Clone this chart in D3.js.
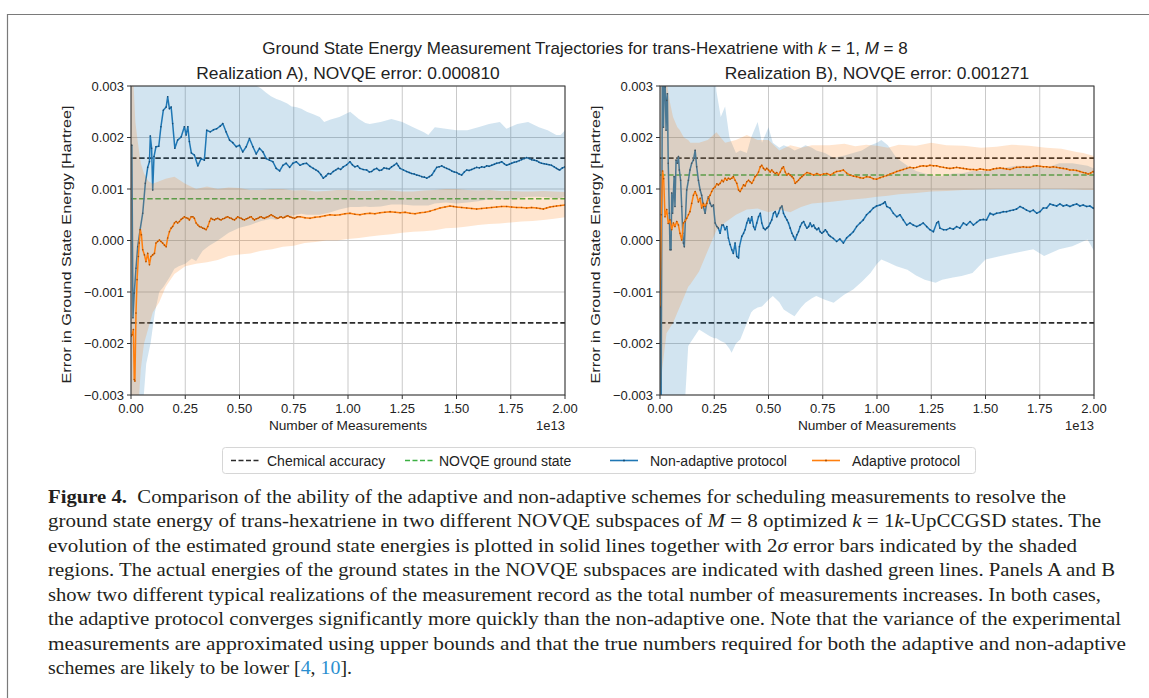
<!DOCTYPE html>
<html>
<head>
<meta charset="utf-8">
<script src="https://cdn.jsdelivr.net/npm/d3@7"></script>
<style>
  body { margin: 0; background: #fff; }
  svg { display: block; }
  .sans { font-family: "Liberation Sans", Arial, sans-serif; fill: #222; }
  .serif { font-family: "Liberation Serif", "Times New Roman", serif; fill: #231f20; }
</style>
</head>
<body>
<svg id="fig" width="1149" height="698"></svg>
<script>
// Valores en mHa (1e-3 Hartree); eje x en unidades de 1e13 mediciones
const xTicks = [0, 0.25, 0.5, 0.75, 1, 1.25, 1.5, 1.75, 2];
const xTickLabels = ["0.00", "0.25", "0.50", "0.75", "1.00", "1.25", "1.50", "1.75", "2.00"];
const yTicks = [-3, -2, -1, 0, 1, 2, 3];
const yTickLabels = ["\u22120.003", "\u22120.002", "\u22120.001", "0.000", "0.001", "0.002", "0.003"];
const chemicalAccuracy = 1.6;
const novqeA = 0.810;
const novqeB = 1.271;
const legendLabels = ["Chemical accuracy", "NOVQE ground state", "Non-adaptive protocol", "Adaptive protocol"];

// Panel A - no adaptativo [x, valor]
const aNonAdaptive = [[0.000,1.85],[0.004,1.85],[0.009,-1.50],[0.015,-1.02],[0.023,-0.54],[0.031,-0.12],[0.042,0.21],[0.054,0.53],[0.066,1.11],[0.077,1.42],[0.085,1.53],[0.089,2.03],[0.095,1.79],[0.100,0.98],[0.106,1.63],[0.115,1.82],[0.128,1.83],[0.138,2.21],[0.149,2.53],[0.162,2.59],[0.169,2.79],[0.177,2.56],[0.185,2.59],[0.192,2.27],[0.202,1.79],[0.215,1.95],[0.231,2.01],[0.246,2.21],[0.254,2.05],[0.262,2.21],[0.269,1.92],[0.278,1.70],[0.292,1.66],[0.308,1.45],[0.323,1.59],[0.338,1.56],[0.349,2.14],[0.365,2.11],[0.380,2.15],[0.395,2.17],[0.411,2.22],[0.423,2.27],[0.438,2.11],[0.454,1.95],[0.469,1.90],[0.485,1.82],[0.500,1.85],[0.515,1.72],[0.531,1.82],[0.546,1.98],[0.562,1.82],[0.577,1.68],[0.592,1.79],[0.608,1.72],[0.623,1.59],[0.638,1.56],[0.654,1.53],[0.669,1.40],[0.685,1.35],[0.700,1.46],[0.715,1.50],[0.731,1.42],[0.746,1.50],[0.762,1.53],[0.779,1.46],[0.794,1.49],[0.809,1.50],[0.825,1.44],[0.840,1.40],[0.852,1.37],[0.863,1.34],[0.875,1.28],[0.886,1.21],[0.898,1.25],[0.909,1.30],[0.920,1.29],[0.932,1.34],[0.944,1.37],[0.955,1.40],[0.966,1.38],[0.978,1.43],[0.994,1.47],[1.009,1.53],[1.020,1.47],[1.032,1.43],[1.044,1.45],[1.055,1.40],[1.070,1.38],[1.086,1.37],[1.098,1.33],[1.109,1.34],[1.120,1.38],[1.132,1.40],[1.144,1.36],[1.155,1.37],[1.166,1.41],[1.178,1.40],[1.190,1.39],[1.201,1.43],[1.212,1.46],[1.224,1.50],[1.232,1.45],[1.240,1.40],[1.255,1.37],[1.270,1.34],[1.282,1.32],[1.293,1.30],[1.305,1.29],[1.317,1.27],[1.328,1.26],[1.340,1.24],[1.352,1.23],[1.363,1.21],[1.375,1.24],[1.386,1.27],[1.398,1.35],[1.409,1.42],[1.420,1.43],[1.432,1.45],[1.444,1.42],[1.455,1.40],[1.467,1.38],[1.478,1.35],[1.490,1.33],[1.501,1.32],[1.512,1.29],[1.524,1.27],[1.536,1.33],[1.547,1.37],[1.558,1.36],[1.570,1.38],[1.582,1.40],[1.593,1.42],[1.605,1.41],[1.616,1.43],[1.628,1.42],[1.639,1.45],[1.650,1.44],[1.662,1.46],[1.674,1.48],[1.685,1.50],[1.697,1.51],[1.708,1.53],[1.720,1.49],[1.731,1.46],[1.743,1.48],[1.754,1.50],[1.766,1.52],[1.777,1.53],[1.789,1.55],[1.800,1.57],[1.812,1.59],[1.823,1.61],[1.835,1.59],[1.846,1.57],[1.858,1.56],[1.869,1.55],[1.880,1.52],[1.892,1.50],[1.904,1.49],[1.915,1.48],[1.927,1.47],[1.938,1.46],[1.950,1.43],[1.961,1.40],[1.969,1.38],[1.976,1.37],[1.988,1.41],[2.000,1.43]];

// Panel A - adaptativo
const aAdaptive = [[0.000,-1.86],[0.005,-1.83],[0.011,-1.73],[0.015,-2.70],[0.018,-2.73],[0.023,-1.41],[0.028,-0.76],[0.034,-0.31],[0.038,-0.05],[0.043,0.21],[0.048,0.11],[0.054,-0.18],[0.062,-0.28],[0.069,-0.41],[0.077,-0.25],[0.085,-0.47],[0.092,-0.31],[0.100,-0.28],[0.108,-0.25],[0.115,-0.05],[0.123,-0.02],[0.131,0.01],[0.138,-0.02],[0.146,-0.05],[0.154,-0.09],[0.162,-0.12],[0.169,0.05],[0.177,0.17],[0.185,0.24],[0.192,0.27],[0.200,0.34],[0.208,0.37],[0.215,0.34],[0.223,0.37],[0.231,0.41],[0.238,0.43],[0.246,0.46],[0.254,0.44],[0.262,0.43],[0.269,0.40],[0.277,0.46],[0.285,0.46],[0.292,0.43],[0.300,0.34],[0.308,0.30],[0.315,0.27],[0.323,0.26],[0.331,0.24],[0.338,0.23],[0.346,0.21],[0.354,0.27],[0.362,0.37],[0.369,0.43],[0.377,0.41],[0.385,0.40],[0.392,0.42],[0.400,0.43],[0.408,0.41],[0.415,0.40],[0.423,0.42],[0.431,0.43],[0.438,0.45],[0.446,0.46],[0.454,0.44],[0.462,0.43],[0.469,0.41],[0.477,0.40],[0.485,0.43],[0.492,0.46],[0.500,0.44],[0.508,0.43],[0.515,0.41],[0.523,0.40],[0.531,0.42],[0.538,0.43],[0.546,0.45],[0.554,0.46],[0.562,0.42],[0.569,0.40],[0.577,0.42],[0.585,0.43],[0.592,0.45],[0.600,0.46],[0.608,0.44],[0.615,0.43],[0.623,0.45],[0.631,0.46],[0.638,0.48],[0.646,0.50],[0.654,0.48],[0.662,0.46],[0.669,0.44],[0.677,0.43],[0.685,0.45],[0.692,0.46],[0.700,0.44],[0.708,0.45],[0.715,0.47],[0.723,0.48],[0.731,0.46],[0.738,0.45],[0.746,0.44],[0.754,0.43],[0.762,0.45],[0.769,0.46],[0.779,0.46],[0.802,0.44],[0.825,0.43],[0.848,0.45],[0.871,0.46],[0.894,0.48],[0.917,0.50],[0.940,0.49],[0.963,0.50],[0.986,0.52],[1.009,0.53],[1.032,0.51],[1.055,0.50],[1.078,0.52],[1.101,0.53],[1.124,0.52],[1.147,0.54],[1.170,0.55],[1.194,0.56],[1.217,0.55],[1.240,0.54],[1.263,0.55],[1.286,0.53],[1.309,0.52],[1.332,0.54],[1.355,0.55],[1.378,0.57],[1.401,0.60],[1.424,0.63],[1.447,0.65],[1.470,0.67],[1.486,0.66],[1.501,0.65],[1.524,0.64],[1.547,0.63],[1.570,0.62],[1.593,0.61],[1.616,0.62],[1.639,0.63],[1.662,0.64],[1.685,0.65],[1.708,0.66],[1.731,0.66],[1.754,0.65],[1.777,0.64],[1.800,0.64],[1.823,0.63],[1.846,0.64],[1.869,0.63],[1.885,0.62],[1.900,0.61],[1.915,0.63],[1.931,0.65],[1.946,0.66],[1.961,0.67],[1.980,0.68],[2.000,0.69]];

// Bandas 2 sigma del panel A [x, inferior, superior]
const aNonAdaptiveBand = [[0,-3.5,3.5],[0.05,-3.5,3.5],[0.07,-2.4,3.5],[0.09,-2.0,3.5],[0.11,-1.4,3.5],[0.13,-1.0,3.5],[0.15,-0.9,3.5],[0.18,-0.7,3.5],[0.20,-0.55,3.5],[0.22,-0.5,3.5],[0.25,-0.45,3.5],[0.28,-0.35,3.5],[0.30,-0.4,3.5],[0.33,-0.2,3.5],[0.36,-0.1,3.5],[0.40,0.0,3.5],[0.45,0.15,3.4],[0.50,0.25,3.3],[0.55,0.3,3.15],[0.58,0.35,3.0],[0.60,0.38,2.95],[0.62,0.4,2.88],[0.645,0.42,2.8],[0.67,0.4,2.75],[0.69,0.45,2.72],[0.72,0.45,2.66],[0.74,0.48,2.6],[0.76,0.5,2.59],[0.785,0.52,2.56],[0.81,0.5,2.5],[0.84,0.5,2.45],[0.87,0.5,2.40],[0.89,0.52,2.30],[0.92,0.55,2.35],[0.96,0.6,2.40],[1.01,0.65,2.50],[1.05,0.65,2.36],[1.08,0.66,2.28],[1.10,0.65,2.26],[1.15,0.66,2.30],[1.20,0.7,2.36],[1.25,0.7,2.30],[1.30,0.68,2.20],[1.35,0.68,2.10],[1.37,0.68,2.05],[1.40,0.72,2.20],[1.45,0.74,2.17],[1.50,0.72,2.14],[1.55,0.74,2.14],[1.60,0.76,2.20],[1.65,0.8,2.26],[1.70,0.8,2.30],[1.73,0.8,2.17],[1.78,0.82,2.26],[1.83,0.85,2.30],[1.88,0.85,2.20],[1.92,0.84,2.14],[1.96,0.82,2.05],[1.98,0.82,2.05],[2.00,0.86,2.14]];
const aAdaptiveBand = [[0,-3.5,3.2],[0.012,-3.5,3.0],[0.02,-3.5,2.3],[0.03,-3.5,1.95],[0.045,-2.5,1.5],[0.06,-2.0,1.3],[0.08,-1.7,1.15],[0.10,-1.4,1.1],[0.13,-1.2,1.15],[0.16,-0.9,1.2],[0.20,-0.65,1.24],[0.25,-0.5,1.1],[0.30,-0.45,1.0],[0.35,-0.42,1.05],[0.40,-0.38,1.0],[0.45,-0.3,1.03],[0.50,-0.27,1.02],[0.55,-0.25,0.98],[0.60,-0.2,0.98],[0.65,-0.17,1.0],[0.70,-0.12,1.0],[0.75,-0.1,0.97],[0.80,-0.05,0.98],[0.85,-0.03,0.95],[0.90,0.0,0.96],[0.95,0.0,0.98],[1.00,0.03,0.98],[1.05,0.05,0.96],[1.10,0.08,0.96],[1.15,0.1,0.98],[1.20,0.12,0.97],[1.25,0.15,0.95],[1.30,0.17,0.95],[1.35,0.18,0.97],[1.40,0.2,0.98],[1.45,0.24,1.0],[1.50,0.25,1.0],[1.55,0.27,0.98],[1.60,0.3,0.97],[1.65,0.32,0.98],[1.70,0.33,0.96],[1.75,0.35,0.96],[1.80,0.37,0.95],[1.85,0.38,0.95],[1.90,0.4,0.96],[1.95,0.42,0.95],[2.00,0.45,0.94]];

// Panel B - no adaptativo
const bNonAdaptive = [[0.000,-1.30],[0.005,-3.50],[0.011,3.40],[0.016,2.20],[0.020,3.10],[0.024,2.98],[0.028,2.14],[0.031,2.72],[0.034,2.85],[0.038,1.50],[0.043,0.53],[0.046,-0.18],[0.051,-0.18],[0.054,0.92],[0.058,0.53],[0.065,1.24],[0.069,0.66],[0.074,1.56],[0.080,1.50],[0.085,1.63],[0.089,1.37],[0.095,1.17],[0.100,0.66],[0.105,0.14],[0.108,-0.05],[0.112,-0.12],[0.117,0.40],[0.123,0.98],[0.131,1.17],[0.138,1.37],[0.146,1.50],[0.154,1.56],[0.162,1.75],[0.169,1.43],[0.177,1.17],[0.185,0.98],[0.192,0.88],[0.200,0.66],[0.208,0.53],[0.215,0.72],[0.223,0.85],[0.231,0.72],[0.238,0.66],[0.246,0.69],[0.254,0.34],[0.262,0.27],[0.269,0.24],[0.277,0.14],[0.285,0.30],[0.292,0.30],[0.300,0.21],[0.308,0.27],[0.315,0.05],[0.323,-0.08],[0.331,-0.18],[0.338,-0.25],[0.346,-0.05],[0.354,-0.31],[0.362,-0.34],[0.366,-0.12],[0.377,0.08],[0.385,0.14],[0.392,0.21],[0.400,0.34],[0.408,0.43],[0.415,0.34],[0.423,0.46],[0.431,0.27],[0.438,0.21],[0.446,0.34],[0.454,0.46],[0.462,0.53],[0.469,0.34],[0.477,0.24],[0.485,0.21],[0.492,0.24],[0.500,0.27],[0.508,0.34],[0.515,0.40],[0.523,0.53],[0.531,0.56],[0.538,0.46],[0.546,0.53],[0.554,0.63],[0.562,0.67],[0.569,0.53],[0.577,0.46],[0.585,0.40],[0.592,0.34],[0.600,0.24],[0.608,0.14],[0.615,0.08],[0.623,0.01],[0.631,0.11],[0.638,0.17],[0.646,0.27],[0.654,0.34],[0.662,0.37],[0.669,0.30],[0.677,0.24],[0.685,0.27],[0.692,0.34],[0.700,0.27],[0.708,0.30],[0.715,0.24],[0.723,0.21],[0.731,0.24],[0.738,0.17],[0.746,0.14],[0.754,0.17],[0.762,0.21],[0.769,0.17],[0.777,0.11],[0.785,0.08],[0.799,0.04],[0.814,-0.02],[0.829,0.03],[0.845,-0.05],[0.860,0.05],[0.876,0.11],[0.891,0.17],[0.906,0.27],[0.922,0.34],[0.937,0.40],[0.952,0.50],[0.968,0.56],[0.983,0.63],[0.998,0.67],[1.014,0.69],[1.029,0.72],[1.037,0.75],[1.045,0.66],[1.060,0.63],[1.075,0.53],[1.091,0.46],[1.106,0.50],[1.121,0.40],[1.137,0.30],[1.152,0.34],[1.167,0.30],[1.183,0.27],[1.198,0.30],[1.213,0.34],[1.229,0.27],[1.244,0.21],[1.260,0.17],[1.275,0.34],[1.283,0.37],[1.290,0.24],[1.306,0.21],[1.321,0.21],[1.336,0.24],[1.352,0.22],[1.367,0.27],[1.382,0.24],[1.398,0.34],[1.413,0.30],[1.429,0.37],[1.444,0.30],[1.459,0.35],[1.475,0.40],[1.490,0.41],[1.505,0.40],[1.521,0.53],[1.536,0.50],[1.551,0.53],[1.567,0.54],[1.582,0.56],[1.597,0.56],[1.613,0.58],[1.628,0.59],[1.643,0.61],[1.659,0.66],[1.674,0.63],[1.689,0.59],[1.705,0.56],[1.720,0.59],[1.736,0.53],[1.751,0.56],[1.766,0.63],[1.782,0.63],[1.797,0.71],[1.812,0.69],[1.828,0.67],[1.843,0.71],[1.858,0.67],[1.874,0.69],[1.889,0.66],[1.904,0.69],[1.920,0.71],[1.935,0.67],[1.950,0.69],[1.966,0.66],[1.981,0.67],[1.996,0.63],[2.000,0.62]];

// Panel B - adaptativo
const bAdaptive = [[0.000,-1.28],[0.006,0.50],[0.012,1.35],[0.017,1.20],[0.023,0.46],[0.031,0.60],[0.038,0.33],[0.046,0.40],[0.054,0.21],[0.062,0.34],[0.069,0.27],[0.077,0.37],[0.085,0.30],[0.092,0.14],[0.100,0.01],[0.108,0.34],[0.115,0.37],[0.123,0.43],[0.131,0.50],[0.138,0.56],[0.146,0.72],[0.154,0.88],[0.162,0.95],[0.169,0.88],[0.177,0.75],[0.185,0.82],[0.192,0.63],[0.200,0.72],[0.208,0.66],[0.215,0.72],[0.223,0.82],[0.231,0.88],[0.238,0.95],[0.246,1.01],[0.254,1.04],[0.262,1.10],[0.269,1.08],[0.277,1.11],[0.285,1.17],[0.292,1.14],[0.300,1.21],[0.308,1.17],[0.315,1.21],[0.323,1.19],[0.331,1.21],[0.338,1.24],[0.346,1.17],[0.354,1.11],[0.362,0.98],[0.369,0.95],[0.377,1.01],[0.385,1.08],[0.392,1.06],[0.400,1.14],[0.408,1.17],[0.415,1.14],[0.423,1.11],[0.431,1.17],[0.438,1.24],[0.446,1.27],[0.454,1.33],[0.462,1.43],[0.469,1.46],[0.477,1.40],[0.485,1.37],[0.492,1.40],[0.500,1.37],[0.508,1.33],[0.515,1.37],[0.523,1.33],[0.531,1.30],[0.538,1.32],[0.546,1.27],[0.554,1.33],[0.562,1.40],[0.569,1.43],[0.577,1.33],[0.585,1.27],[0.592,1.30],[0.600,1.27],[0.608,1.24],[0.615,1.21],[0.623,1.11],[0.631,1.14],[0.638,1.17],[0.646,1.21],[0.654,1.24],[0.662,1.27],[0.677,1.32],[0.692,1.30],[0.708,1.27],[0.723,1.30],[0.738,1.27],[0.754,1.29],[0.769,1.30],[0.785,1.27],[0.800,1.31],[0.814,1.34],[0.830,1.35],[0.845,1.37],[0.860,1.31],[0.876,1.27],[0.891,1.25],[0.906,1.24],[0.922,1.22],[0.937,1.21],[0.952,1.24],[0.968,1.23],[0.983,1.20],[0.998,1.19],[1.014,1.22],[1.029,1.24],[1.045,1.26],[1.060,1.29],[1.075,1.31],[1.091,1.34],[1.106,1.36],[1.121,1.38],[1.137,1.40],[1.152,1.42],[1.168,1.41],[1.183,1.42],[1.198,1.44],[1.213,1.45],[1.229,1.44],[1.244,1.46],[1.260,1.45],[1.275,1.45],[1.290,1.43],[1.306,1.42],[1.321,1.41],[1.336,1.40],[1.352,1.41],[1.367,1.42],[1.382,1.41],[1.398,1.40],[1.413,1.39],[1.429,1.38],[1.444,1.38],[1.459,1.37],[1.475,1.39],[1.490,1.38],[1.505,1.37],[1.521,1.37],[1.536,1.39],[1.551,1.40],[1.567,1.41],[1.582,1.40],[1.597,1.39],[1.613,1.38],[1.628,1.40],[1.643,1.42],[1.659,1.42],[1.674,1.43],[1.689,1.42],[1.705,1.42],[1.720,1.44],[1.736,1.45],[1.751,1.44],[1.766,1.43],[1.782,1.43],[1.797,1.42],[1.812,1.43],[1.828,1.42],[1.843,1.41],[1.858,1.40],[1.874,1.39],[1.889,1.37],[1.904,1.37],[1.920,1.36],[1.935,1.34],[1.950,1.32],[1.962,1.31],[1.973,1.29],[1.985,1.31],[1.996,1.34],[2.000,1.33]];

// Bandas 2 sigma del panel B [x, inferior, superior]
const bNonAdaptiveBand = [[0,-3.5,3.5],[0.11,-3.5,3.5],[0.13,-2.05,3.5],[0.18,-1.73,3.5],[0.23,-1.86,3.5],[0.25,-1.9,3.5],[0.26,-1.9,2.9],[0.28,-1.95,2.4],[0.30,-1.99,2.6],[0.32,-2.1,2.0],[0.33,-2.18,1.9],[0.35,-2.0,1.7],[0.37,-1.92,1.75],[0.40,-1.6,1.7],[0.42,-1.40,2.0],[0.43,-1.35,2.1],[0.45,-1.3,2.3],[0.47,-1.28,1.9],[0.50,-1.15,2.2],[0.52,-1.08,1.9],[0.55,-1.2,1.8],[0.57,-1.34,1.85],[0.60,-1.42,1.8],[0.62,-1.47,1.75],[0.65,-1.3,1.8],[0.67,-1.21,1.85],[0.70,-1.12,1.8],[0.72,-1.08,1.75],[0.76,-1.15,1.7],[0.80,-1.21,1.6],[0.85,-1.05,1.65],[0.89,-0.95,1.7],[0.93,-0.8,1.75],[0.97,-0.63,1.85],[1.00,-0.45,1.9],[1.02,-0.37,1.95],[1.05,-0.42,1.85],[1.09,-0.50,1.6],[1.14,-0.57,1.45],[1.18,-0.68,1.35],[1.22,-0.76,1.3],[1.27,-0.82,1.25],[1.30,-0.76,1.25],[1.35,-0.72,1.3],[1.39,-0.69,1.3],[1.44,-0.63,1.35],[1.50,-0.37,1.35],[1.57,-0.30,1.4],[1.64,-0.24,1.45],[1.72,-0.17,1.45],[1.77,-0.30,1.4],[1.84,-0.17,1.5],[1.90,-0.11,1.5],[1.97,0.02,1.45],[2.00,-0.2,1.4]];
const bAdaptiveBand = [[0,-3.5,3.5],[0.01,-2.5,3.5],[0.03,-1.8,3.1],[0.045,-1.7,2.7],[0.06,-1.6,2.4],[0.08,-1.4,2.2],[0.09,-1.3,2.15],[0.11,-1.1,2.0],[0.13,-0.9,1.95],[0.14,-0.85,1.9],[0.18,-0.6,1.9],[0.22,-0.2,1.95],[0.26,0.2,2.1],[0.30,0.35,1.9],[0.35,0.5,1.95],[0.40,0.6,2.05],[0.45,0.62,1.95],[0.50,0.55,1.95],[0.55,0.6,1.75],[0.60,0.55,1.85],[0.65,0.65,1.8],[0.70,0.72,1.85],[0.78,0.75,1.85],[0.85,0.78,1.88],[0.90,0.8,1.83],[0.95,0.82,1.86],[1.00,0.85,1.84],[1.05,0.87,1.80],[1.10,0.9,1.86],[1.18,0.92,1.84],[1.25,0.95,1.90],[1.32,0.96,1.85],[1.40,0.98,1.84],[1.48,0.99,1.80],[1.55,1.0,1.82],[1.62,1.0,1.86],[1.70,1.0,1.84],[1.78,1.0,1.80],[1.85,1.0,1.78],[1.92,0.99,1.72],[1.95,0.98,1.70],[2.00,0.98,1.64]];

const BLUE = "#1f77b4", ORANGE = "#ff7f0e", GREEN = "#3cb043";

const svg = d3.select("#fig");

// Marco gris de la figura
svg.append("path").attr("d", "M7.5,698 V14.5 H1149")
  .attr("fill", "none").attr("stroke", "#7a7a7a").attr("stroke-width", 1.2);

// Titulo general
const sup = svg.append("text").attr("class", "sans")
  .attr("x", 585).attr("y", 54).attr("text-anchor", "middle").style("font-size", "17px");
sup.append("tspan").text("Ground State Energy Measurement Trajectories for trans-Hexatriene with ");
sup.append("tspan").style("font-style", "italic").text("k");
sup.append("tspan").text(" = 1, ");
sup.append("tspan").style("font-style", "italic").text("M");
sup.append("tspan").text(" = 8");

const panels = [
  { left: 131, title: "Realization A), NOVQE error: 0.000810", novqe: novqeA,
    non: aNonAdaptive, ada: aAdaptive, nonBand: aNonAdaptiveBand, adaBand: aAdaptiveBand },
  { left: 660, title: "Realization B), NOVQE error: 0.001271", novqe: novqeB,
    non: bNonAdaptive, ada: bAdaptive, nonBand: bNonAdaptiveBand, adaBand: bAdaptiveBand }
];
const pw = 434, plotTop = 86, plotBottom = 395;

panels.forEach((p, i) => {
  const x = d3.scaleLinear().domain([0, 2]).range([p.left, p.left + pw]);
  const y = d3.scaleLinear().domain([-3, 3]).range([plotBottom, plotTop]);
  const g = svg.append("g");

  const clipId = "clip" + i;
  svg.append("clipPath").attr("id", clipId).append("rect")
    .attr("x", p.left).attr("y", plotTop).attr("width", pw).attr("height", plotBottom - plotTop);

  // Cuadricula
  g.append("g").selectAll("line").data(xTicks).join("line")
    .attr("x1", d => x(d)).attr("x2", d => x(d)).attr("y1", plotTop).attr("y2", plotBottom)
    .attr("stroke", "#c9c9c9").attr("stroke-width", 1);
  g.append("g").selectAll("line").data(yTicks).join("line")
    .attr("x1", p.left).attr("x2", p.left + pw).attr("y1", d => y(d)).attr("y2", d => y(d))
    .attr("stroke", "#c9c9c9").attr("stroke-width", 1);

  const plot = g.append("g").attr("clip-path", `url(#${clipId})`);
  const area = d3.area().x(d => x(d[0])).y0(d => y(d[1])).y1(d => y(d[2]));
  const line = d3.line().x(d => x(d[0])).y(d => y(d[1]));

  // Lineas de referencia
  [chemicalAccuracy, -chemicalAccuracy].forEach(v => {
    plot.append("line").attr("x1", p.left).attr("x2", p.left + pw)
      .attr("y1", y(v)).attr("y2", y(v))
      .attr("stroke", "#2b2b2b").attr("stroke-width", 1.6).attr("stroke-dasharray", "5.5,2.6");
  });
  plot.append("line").attr("x1", p.left).attr("x2", p.left + pw)
    .attr("y1", y(p.novqe)).attr("y2", y(p.novqe))
    .attr("stroke", GREEN).attr("stroke-width", 1.6).attr("stroke-dasharray", "5.5,2.6");

  // Bandas y trayectorias
  plot.append("path").datum(p.nonBand).attr("d", area).attr("fill", BLUE).attr("fill-opacity", 0.2);
  plot.append("path").datum(p.non).attr("d", line).attr("fill", "none")
    .attr("stroke", BLUE).attr("stroke-width", 1.5).attr("stroke-linejoin", "round");
  plot.append("g").selectAll("circle").data(p.non).join("circle")
    .attr("cx", d => x(d[0])).attr("cy", d => y(d[1])).attr("r", 0.8).attr("fill", "#174a72");

  plot.append("path").datum(p.adaBand).attr("d", area).attr("fill", ORANGE).attr("fill-opacity", 0.2);
  plot.append("path").datum(p.ada).attr("d", line).attr("fill", "none")
    .attr("stroke", ORANGE).attr("stroke-width", 1.5).attr("stroke-linejoin", "round");
  plot.append("g").selectAll("circle").data(p.ada).join("circle")
    .attr("cx", d => x(d[0])).attr("cy", d => y(d[1])).attr("r", 0.8).attr("fill", "#a84f06");

  // Ejes
  g.append("rect").attr("x", p.left).attr("y", plotTop).attr("width", pw).attr("height", plotBottom - plotTop)
    .attr("fill", "none").attr("stroke", "#333").attr("stroke-width", 1);

  g.append("g").selectAll("line").data(xTicks).join("line")
    .attr("x1", d => x(d)).attr("x2", d => x(d)).attr("y1", plotBottom).attr("y2", plotBottom + 4)
    .attr("stroke", "#333");
  g.append("g").selectAll("text").data(xTicks).join("text").attr("class", "sans")
    .attr("x", d => x(d)).attr("y", plotBottom + 17.5).attr("text-anchor", "middle")
    .style("font-size", "13px").text((d, j) => xTickLabels[j]);

  g.append("g").selectAll("line").data(yTicks).join("line")
    .attr("x1", p.left - 4).attr("x2", p.left).attr("y1", d => y(d)).attr("y2", d => y(d))
    .attr("stroke", "#333");
  g.append("g").selectAll("text").data(yTicks).join("text").attr("class", "sans")
    .attr("x", p.left - 7).attr("y", d => y(d) + 4.7).attr("text-anchor", "end")
    .style("font-size", "13px").text((d, j) => yTickLabels[j]);

  // Titulos y etiquetas
  g.append("text").attr("class", "sans").attr("x", p.left + pw / 2).attr("y", 79)
    .attr("text-anchor", "middle").style("font-size", "17.4px").text(p.title);
  g.append("text").attr("class", "sans").attr("x", p.left + pw / 2).attr("y", 430)
    .attr("text-anchor", "middle").style("font-size", "13.7px").text("Number of Measurements");
  g.append("text").attr("class", "sans").attr("x", p.left + pw).attr("y", 430)
    .attr("text-anchor", "end").style("font-size", "13px").text("1e13");
  g.append("text").attr("class", "sans")
    .attr("transform", `translate(${p.left - 60},${(plotTop + plotBottom) / 2 + 4}) rotate(-90)`)
    .attr("text-anchor", "middle").style("font-size", "13.7px")
    .attr("textLength", 278).attr("lengthAdjust", "spacingAndGlyphs")
    .text("Error in Ground State Energy [Hartree]");
});

// Leyenda
const lg = svg.append("g");
lg.append("rect").attr("x", 222.5).attr("y", 447.5).attr("width", 753).attr("height", 26).attr("rx", 3)
  .attr("fill", "#fff").attr("stroke", "#d6d6d6");
const legendItems = [
  { x: 231, tx: 267, color: "#2b2b2b", dash: "5,2.5", marker: false },
  { x: 405, tx: 439, color: GREEN, dash: "5,2.5", marker: false },
  { x: 610, tx: 650, color: BLUE, dash: null, marker: true },
  { x: 812, tx: 852, color: ORANGE, dash: null, marker: true }
];
legendItems.forEach((it, i) => {
  const ly = 460.5;
  const l = lg.append("line").attr("x1", it.x).attr("x2", it.x + 28).attr("y1", ly).attr("y2", ly)
    .attr("stroke", it.color).attr("stroke-width", 1.6);
  if (it.dash) l.attr("stroke-dasharray", it.dash);
  if (it.marker) lg.append("circle").attr("cx", it.x + 14).attr("cy", ly).attr("r", 1)
    .attr("fill", i === 2 ? "#174a72" : "#a84f06");
  lg.append("text").attr("class", "sans").attr("x", it.tx).attr("y", ly + 5)
    .style("font-size", "14px").text(legendLabels[i]);
});

// Pie de figura
const captionLines = [
  [{ t: "Figure 4.", b: true }, { t: "  Comparison of the ability of the adaptive and non-adaptive schemes for scheduling measurements to resolve the" }],
  [{ t: "ground state energy of trans-hexatriene in two different NOVQE subspaces of " }, { t: "M", i: true }, { t: " = 8 optimized " }, { t: "k", i: true }, { t: " = 1" }, { t: "k", i: true }, { t: "-UpCCGSD states. The" }],
  [{ t: "evolution of the estimated ground state energies is plotted in solid lines together with 2" }, { t: "\u03c3", i: true }, { t: " error bars indicated by the shaded" }],
  [{ t: "regions. The actual energies of the ground states in the NOVQE subspaces are indicated with dashed green lines. Panels A and B" }],
  [{ t: "show two different typical realizations of the measurement record as the total number of measurements increases. In both cases," }],
  [{ t: "the adaptive protocol converges significantly more quickly than the non-adaptive one. Note that the variance of the experimental" }],
  [{ t: "measurements are approximated using upper bounds and that the true numbers required for both the adaptive and non-adaptive" }],
  [{ t: "schemes are likely to be lower [" }, { t: "4", c: "#2a8fd0" }, { t: ", " }, { t: "10", c: "#2a8fd0" }, { t: "]." }]
];
const captionEnds = [1066, 1101, 1077, 1115, 1101, 1121, 1126, 352];
captionLines.forEach((parts, i) => {
  const t = svg.append("text").attr("class", "serif")
    .attr("x", 48).attr("y", 502.5 + i * 24.5).style("font-size", "19px")
    .attr("textLength", captionEnds[i] - 48).attr("lengthAdjust", "spacingAndGlyphs")
    .attr("xml:space", "preserve");
  parts.forEach(s => {
    const ts = t.append("tspan").text(s.t);
    if (s.b) ts.style("font-weight", "bold");
    if (s.i) ts.style("font-style", "italic");
    if (s.c) ts.style("fill", s.c);
  });
});
</script>
</body>
</html>
